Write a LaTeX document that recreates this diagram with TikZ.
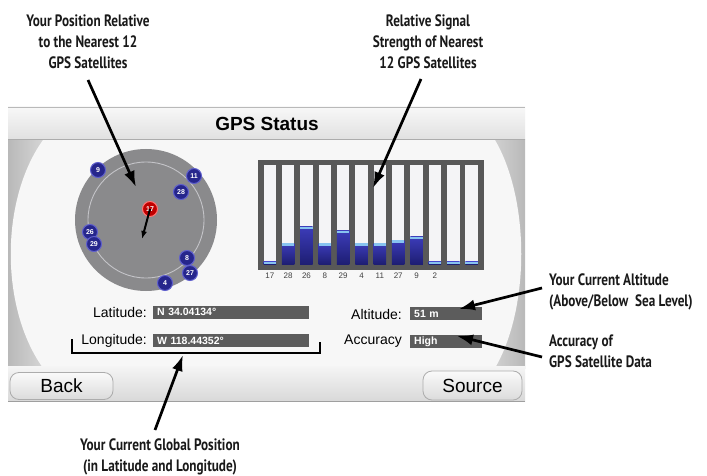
\documentclass[tikz,border=0pt]{standalone}
\usepackage{fontspec}
\setmainfont{Liberation Sans}
\newfontfamily\lblfont[FakeStretch=0.8]{PT Sans}
\usetikzlibrary{arrows.meta}
\definecolor{disk}{RGB}{138,138,140}
\definecolor{ringc}{RGB}{196,196,200}
\definecolor{satfill}{RGB}{38,38,140}
\definecolor{satrim}{RGB}{95,95,205}
\definecolor{boxgray}{RGB}{92,92,92}
\definecolor{framegray}{RGB}{88,88,88}
\definecolor{bartop}{RGB}{60,60,185}
\definecolor{barbot}{RGB}{30,30,115}
\definecolor{barcyan}{RGB}{135,195,240}
\definecolor{slotw}{RGB}{244,244,246}
\begin{document}
\begin{tikzpicture}[x=1pt,y=-1pt,
  callout/.style={font=\lblfont\bfseries\fontsize{16.5}{21}\selectfont, text=black!90, inner sep=0pt},
  ptr/.style={line width=2.7pt, black, -{Latex[length=16pt,width=11pt]}},
  sat/.style={circle, fill=satfill, draw=satrim, line width=1pt, minimum size=15pt, inner sep=0pt, text=white, font=\bfseries\fontsize{7}{7}\selectfont},
  fieldlbl/.style={anchor=east, inner sep=0pt, font=\fontsize{14}{14}\selectfont},
  valbox/.style={anchor=west, fill=boxgray, text=white, inner xsep=4pt, inner ysep=0pt, minimum height=13pt, align=left, font=\bfseries\fontsize{10.5}{10.5}\selectfont},
  btn/.style={draw=gray!65, line width=0.8pt, rounded corners=9pt, top color=gray!4, bottom color=gray!28, font=\fontsize{19}{19}\selectfont, inner sep=0pt}
]
\useasboundingbox (0,0) rectangle (707,476);
\fill[white] (0,0) rectangle (707,476);

% screen body
\shade[left color=gray!55, right color=gray!22] (8,140) rectangle (60,368);
\shade[left color=gray!22, right color=gray!55] (470,140) rectangle (525,368);
\fill[gray!6] (43,140) .. controls (0,200) and (0,308) .. (43,368) -- (495,368) .. controls (530,308) and (530,200) .. (495,140) -- cycle;
% title bar
\shade[top color=gray!6, bottom color=gray!24] (8,107) rectangle (525,140);
\draw[gray!55, line width=0.8pt] (8,107) -- (525,107);
\draw[gray!65, line width=1pt] (8,140) -- (525,140);
\node[font=\bfseries\fontsize{19}{19}\selectfont, inner sep=0pt] (title) at (267,124) {GPS Status};
% bottom bar
\shade[top color=gray!8, bottom color=gray!30] (8,366) rectangle (525,401);
\draw[gray!75, line width=1pt] (8,401) -- (525,401);
\node[btn, minimum width=103pt, minimum height=27pt] (back) at (61.5,386) {Back};
\node[btn, minimum width=99pt, minimum height=29pt] (source) at (472.5,385.5) {Source};

% satellite disk
\fill[disk] (146,220) circle (71);
\draw[ringc, line width=0.9pt] (146,220) circle (58);
\node[sat] (s9) at (98,170) {9};
\node[sat] (s11) at (194,176) {11};
\node[sat] (s28) at (181,192) {28};
\node[sat] (s26) at (90,232) {26};
\node[sat] (s29) at (94,244) {29};
\node[sat] (s8) at (187,258) {8};
\node[sat] (s27) at (190,273) {27};
\node[sat] (s4) at (165,283) {4};
\node[sat, fill=red!75!black, draw=red!55] (s17) at (150,209) {17};
\coordinate (heading) at (142,239);
\draw[line width=2pt, black, -{Latex[length=8pt,width=6pt]}] (s17.center) -- (heading);

% signal bars
\fill[framegray] (258,160) rectangle (484,270);
\foreach \i/\t/\lab in {0/261.7/17, 1/243.3/28, 2/226.7/26, 3/243.3/8, 4/230.7/29, 5/243.3/4, 6/243.3/11, 7/240/27, 8/236.7/9, 9/261.7/2, 10/261.7/{}, 11/261.7/{}}{
  \pgfmathsetmacro\xa{263.5+\i*18.35}
  \pgfmathsetmacro\xb{\xa+12.5}
  \pgfmathsetmacro\xc{\xa+6.25}
  \fill[slotw] (\xa,165) rectangle (\xb,264);
  \shade[top color=bartop, bottom color=barbot] (\xa,\t) rectangle (\xb,264);
  \fill[barcyan] (\xa,\t) rectangle (\xb,\t+2.5);
  \node[font=\fontsize{8}{8}\selectfont, text=black!75, inner sep=0pt] at (\xc,275.5) {\lab};
}

% fields
\node[fieldlbl] (latl) at (147,312) {Latitude:};
\node[valbox, text width=148pt] (latv) at (153,312) {N 34.04134°};
\node[fieldlbl] (lonl) at (147,340.5) {Longitude:};
\node[valbox, text width=148pt] (lonv) at (153,340.5) {W 118.44352°};
\node[fieldlbl] (altl) at (402,314) {Altitude:};
\node[valbox, text width=64pt] (altv) at (410,313.5) {51 m};
\node[fieldlbl] (accl) at (402,341.5) {Accuracy};
\node[valbox, text width=64pt] (accv) at (410,341.5) {High};

% bracket
\coordinate (brA) at (72,339);
\coordinate (brB) at (320,353);
\coordinate (brC) at (320,342);
\draw[line width=1.6pt, black] (brA) |- (brB) -- (brC);

% callouts
\node[callout, align=center] (tl) at (88,42) {Your Position Relative\\to the Nearest 12\\GPS Satellites};
\node[callout, align=center] (tr) at (428,42) {Relative Signal\\Strength of Nearest\\12 GPS Satellites};
\node[callout, align=center] (bt) at (160,457) {Your Current Global Position\\(in Latitude and Longitude)};
\node[callout, align=left, anchor=west] (alt) at (549,292) {Your Current Altitude\\(Above/Below~ Sea Level)};
\node[callout, align=left, anchor=west] (acc) at (549,351) {Accuracy of\\GPS Satellite Data};

\coordinate (tlT) at (88,80);  \coordinate (tlH) at (136,187);
\coordinate (trT) at (421,79); \coordinate (trH) at (373,188);
\coordinate (btT) at (155,430); \coordinate (btH) at (183,355);
\coordinate (alT) at (542,288); \coordinate (alH) at (459,309);
\coordinate (acT) at (542,357); \coordinate (acH) at (457,336);
\draw[ptr] (tlT) -- (tlH);
\draw[ptr] (trT) -- (trH);
\draw[ptr] (btT) -- (btH);
\draw[ptr] (alT) -- (alH);
\draw[ptr] (acT) -- (acH);
\end{tikzpicture}
\end{document}
